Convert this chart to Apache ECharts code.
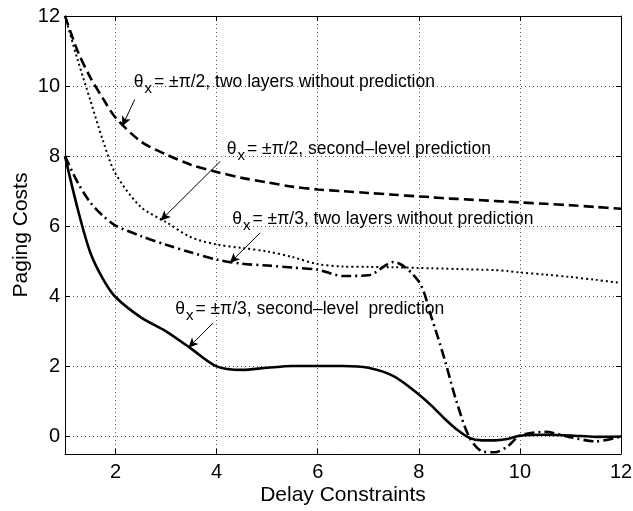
<!DOCTYPE html>
<html>
<head>
<meta charset="utf-8">
<script src="https://cdn.jsdelivr.net/npm/echarts@6/dist/echarts.min.js"></script>
<style>html,body{margin:0;padding:0;background:#fff;}#c{width:633px;height:511px;}</style>
</head>
<body>
<div id="c"></div>
<script>
// ---- data ----
const xValues = [1, 1.25, 1.5, 1.75, 2, 2.5, 3, 3.5, 4, 4.5, 5, 5.5, 6, 6.5, 7, 7.5, 8, 8.25, 8.5, 8.75, 9, 9.25, 9.5, 9.75, 10, 10.5, 11, 11.5, 12];
// theta = ±pi/2, two layers without prediction (dashed)
const halfPiTwoLayers = [12.0, 11.0, 10.25, 9.65, 9.1, 8.42, 8.05, 7.75, 7.55, 7.38, 7.25, 7.13, 7.05, 7.0, 6.95, 6.9, 6.85, 6.83, 6.8, 6.78, 6.76, 6.74, 6.72, 6.7, 6.68, 6.64, 6.6, 6.55, 6.5];
// theta = ±pi/2, second-level prediction (dotted)
const halfPiSecondLevel = [12.0, 10.75, 9.6, 8.45, 7.5, 6.55, 6.12, 5.68, 5.48, 5.38, 5.28, 5.12, 4.92, 4.85, 4.84, 4.83, 4.81, 4.8, 4.79, 4.78, 4.77, 4.76, 4.75, 4.72, 4.68, 4.62, 4.55, 4.47, 4.38];
// theta = ±pi/3, two layers without prediction (dash-dot)
const thirdPiTwoLayers = [8.0, 7.25, 6.68, 6.3, 6.02, 5.72, 5.47, 5.25, 5.05, 4.93, 4.88, 4.82, 4.76, 4.58, 4.6, 4.98, 4.42, 3.4, 2.25, 0.98, -0.02, -0.42, -0.45, -0.29, 0.02, 0.13, -0.02, -0.14, 0.0];
// theta = ±pi/3, second-level prediction (solid)
const thirdPiSecondLevel = [8.0, 6.5, 5.25, 4.5, 3.98, 3.4, 3.0, 2.5, 2.0, 1.9, 1.96, 2.01, 2.01, 2.01, 1.96, 1.72, 1.2, 0.88, 0.52, 0.2, -0.04, -0.11, -0.11, -0.07, 0.02, 0.05, 0.03, -0.01, 0.0];

const seriesNames = [
  'θx = ±π/2, two layers without prediction',
  'θx = ±π/2, second–level prediction',
  'θx = ±π/3, two layers without prediction',
  'θx = ±π/3, second–level  prediction'
];
const labelTexts = [
  '{t|θ}{s|x}{t|= ±π/2, two layers without prediction}',
  '{t|θ}{s|x}{t|= ±π/2, second–level prediction}',
  '{t|θ}{s|x}{t|= ±π/3, two layers without prediction}',
  '{t|θ}{s|x}{t|= ±π/3, second–level  prediction}'
];
// annotation anchors (data units): text left/middle, arrow start, arrow end
const labelAnchors = [[2.36, 10.12], [4.2, 8.19], [4.31, 6.19], [3.18, 3.62]];
const arrowStarts = [[2.38, 9.62], [4.07, 7.85], [4.86, 5.81], [3.93, 3.24]];
const arrowEnds = [[2.13, 8.85], [2.89, 6.16], [4.26, 4.95], [3.44, 2.53]];

const allValues = [halfPiTwoLayers, halfPiSecondLevel, thirdPiTwoLayers, thirdPiSecondLevel];
const lineStyles = [
  {type: [10, 5], width: 2.6},
  {type: [2, 3], width: 2},
  {type: [10, 4, 2, 4], width: 2.6},
  {type: 'solid', width: 2.6}
];

const FONT = '"Liberation Sans", Arial, Helvetica, sans-serif';

const series = allValues.map((vals, i) => ({
  name: seriesNames[i],
  type: 'line',
  data: xValues.map((x, j) => [x, vals[j]]),
  showSymbol: false,
  smooth: 0.3,
  xAxisIndex: 0,
  yAxisIndex: 0,
  lineStyle: Object.assign({color: '#000', cap: 'butt'}, lineStyles[i]),
  markPoint: {
    symbol: 'circle',
    symbolSize: 0,
    silent: true,
    data: [{coord: labelAnchors[i]}],
    label: {
      show: true,
      position: 'right',
      distance: 0,
      formatter: labelTexts[i],
      rich: {
        t: {fontSize: 17.5, color: '#000', fontFamily: FONT},
        s: {fontSize: 15, color: '#000', fontFamily: FONT, padding: [13, 2, 0, 1]}
      }
    }
  },
  markLine: {
    silent: true,
    symbol: ['none', 'arrow'],
    symbolSize: [7, 10],
    label: {show: false},
    lineStyle: {color: '#000', type: 'solid', width: 1},
    data: [[{coord: arrowStarts[i]}, {coord: arrowEnds[i]}]]
  }
}));

const axisLabelStyle = {color: '#000', fontSize: 20, fontFamily: FONT};
const gridLine = {show: true, lineStyle: {color: '#555', type: [1, 3], width: 1}};

const chart = echarts.init(document.getElementById('c'), null, {renderer: 'canvas'});
chart.setOption({
  animation: false,
  backgroundColor: '#fff',
  grid: {left: 65, right: 12, top: 16, bottom: 57, show: false, containLabel: false, outerBoundsMode: 'none'},
  xAxis: [{
    type: 'value', min: 1, max: 12, splitNumber: 5,
    name: 'Delay Constraints', nameLocation: 'middle', nameGap: 31, nameMoveOverlap: false,
    nameTextStyle: {color: '#000', fontSize: 21, fontFamily: FONT},
    axisLine: {show: true, onZero: false, lineStyle: {color: '#000', width: 1}},
    axisTick: {show: true, inside: true, length: 5, lineStyle: {color: '#000'}},
    axisLabel: Object.assign({margin: 8, showMinLabel: false}, axisLabelStyle),
    splitLine: gridLine
  }, {
    type: 'value', min: 1, max: 12, splitNumber: 5, position: 'top',
    axisLine: {show: true, onZero: false, lineStyle: {color: '#000', width: 1}},
    axisTick: {show: true, inside: true, length: 5, lineStyle: {color: '#000'}},
    axisLabel: {show: false}, splitLine: {show: false}
  }],
  yAxis: [{
    type: 'value', min: -0.5, max: 12, splitNumber: 6,
    name: 'Paging Costs', nameLocation: 'middle', nameGap: 33, nameRotate: 90, nameMoveOverlap: false,
    nameTextStyle: {color: '#000', fontSize: 21, fontFamily: FONT},
    axisLine: {show: true, onZero: false, lineStyle: {color: '#000', width: 1}},
    axisTick: {show: true, inside: true, length: 5, lineStyle: {color: '#000'}},
    axisLabel: Object.assign({margin: 5, showMinLabel: false}, axisLabelStyle),
    splitLine: gridLine
  }, {
    type: 'value', min: -0.5, max: 12, splitNumber: 6, position: 'right',
    axisLine: {show: true, onZero: false, lineStyle: {color: '#000', width: 1}},
    axisTick: {show: true, inside: true, length: 5, lineStyle: {color: '#000'}},
    axisLabel: {show: false}, splitLine: {show: false}
  }],
  series: series
});
</script>
</body>
</html>
